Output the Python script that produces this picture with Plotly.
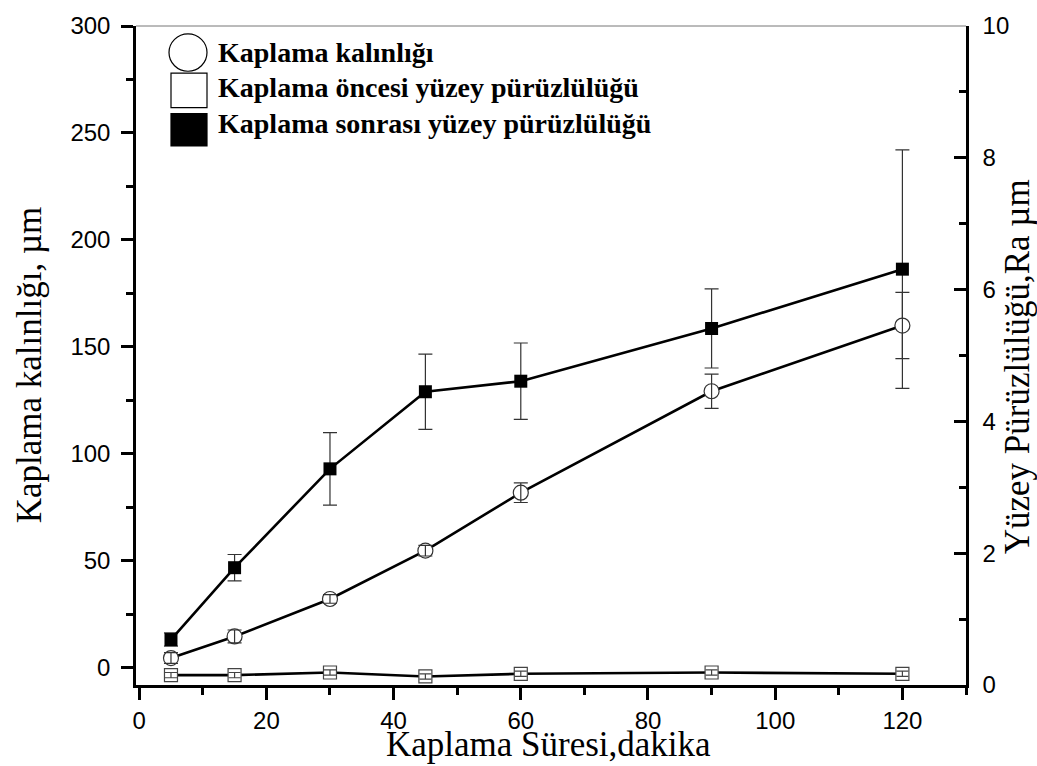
import plotly.graph_objects as go

# ---- data ----
time_min = [5, 15, 30, 45, 60, 90, 120]
thickness = [4.6, 14.7, 32.2, 54.8, 81.9, 129.3, 160.0]
thickness_err = [2.5, 3.0, 2.0, 2.5, 4.6, 8.0, 15.5]
rough_before = [0.15, 0.15, 0.19, 0.13, 0.17, 0.19, 0.17]
rough_before_err = [0.04, 0.04, 0.04, 0.04, 0.04, 0.04, 0.04]
rough_after = [0.69, 1.78, 3.28, 4.45, 4.61, 5.41, 6.31]
rough_after_err = [0.10, 0.20, 0.55, 0.57, 0.58, 0.60, 1.81]

x_ticks = [0, 20, 40, 60, 80, 100, 120]
left_ticks = [0, 50, 100, 150, 200, 250, 300]
right_ticks = [0, 2, 4, 6, 8, 10]

legend_names = ["Kaplama kalınlığı",
                "Kaplama öncesi yüzey pürüzlülüğü",
                "Kaplama sonrası yüzey pürüzlülüğü"]

W, H = 1037, 766
PL, PR, PT, PB = 136, 966, 15, 685


def px_x(p):
    return (p - PL) / (PR - PL)


def px_y(p):
    return (PB - p) / (PB - PT)


SERIF = "Liberation Serif, Times New Roman, serif"
SANS = "Liberation Sans, Arial, sans-serif"

fig = go.Figure()

# roughness (right axis -> primary 'y' so it sits in the lower layer)
fig.add_trace(go.Scatter(
    x=time_min, y=rough_after, yaxis="y", mode="lines+markers",
    line=dict(color="black", width=2.6),
    marker=dict(symbol="square", size=13, color="black"),
    error_y=dict(type="data", array=rough_after_err, color="#333",
                 thickness=1.2, width=7),
    showlegend=False))
fig.add_trace(go.Scatter(
    x=time_min, y=rough_before, yaxis="y", mode="lines+markers",
    line=dict(color="black", width=2.6),
    marker=dict(symbol="square", size=13, color="white",
                line=dict(color="#444", width=1.2)),
    showlegend=False))
fig.add_trace(go.Scatter(
    x=time_min, y=rough_before, yaxis="y", mode="markers",
    marker=dict(size=1, color="rgba(0,0,0,0)"),
    error_y=dict(type="data", array=rough_before_err, color="#444",
                 thickness=1.2, width=6),
    showlegend=False, hoverinfo="skip"))

# thickness (left axis -> overlay 'y2', upper layer)
fig.add_trace(go.Scatter(
    x=time_min, y=thickness, yaxis="y2", mode="lines+markers",
    line=dict(color="black", width=2.6),
    marker=dict(symbol="circle", size=15, color="white",
                line=dict(color="#333", width=1.2)),
    showlegend=False))
fig.add_trace(go.Scatter(
    x=time_min, y=thickness, yaxis="y2", mode="markers",
    marker=dict(size=1, color="rgba(0,0,0,0)"),
    error_y=dict(type="data", array=thickness_err, color="#333",
                 thickness=1.2, width=7),
    showlegend=False, hoverinfo="skip"))

axis_common = dict(showline=True, linecolor="black", linewidth=2.5,
                   showgrid=False, zeroline=False, tickcolor="black",
                   tickwidth=2.5, ticklen=12,
                   tickfont=dict(family=SANS, size=24, color="black"))

fig.update_layout(
    width=W, height=H,
    margin=dict(l=PL, r=W - PR, t=PT, b=H - PB),
    paper_bgcolor="white", plot_bgcolor="white",
    showlegend=False,
    xaxis=dict(range=[-0.5, 130], tickvals=x_ticks, ticks="outside",
               minor=dict(dtick=10, ticklen=7, tickwidth=2.5,
                          tickcolor="black", ticks="outside"),
               ticklabelstandoff=0, **axis_common),
    yaxis=dict(range=[0, 10], tickvals=right_ticks, side="right",
               ticks="inside",
               minor=dict(dtick=1, ticklen=7, tickwidth=2.5,
                          tickcolor="black", ticks="inside"),
               ticklabelstandoff=9, **axis_common),
    yaxis2=dict(range=[-8, 300], tickvals=left_ticks, side="left",
                overlaying="y", ticks="outside",
                minor=dict(dtick=25, ticklen=7, tickwidth=2.5,
                           tickcolor="black", ticks="outside"),
                ticklabelstandoff=6, **axis_common),
)

# top frame line
fig.add_shape(type="line", xref="paper", yref="paper", x0=0, x1=1, y0=1, y1=1,
              line=dict(color="#777", width=1))

# axis titles
fig.add_annotation(text="Kaplama Süresi,dakika", xref="paper", yref="paper",
                   x=px_x(548), y=px_y(746), xanchor="center", yanchor="middle",
                   showarrow=False, font=dict(family=SERIF, size=35, color="black"))
fig.add_annotation(text="Kaplama kalınlığı, µm", xref="paper", yref="paper",
                   x=px_x(29), y=px_y(360), xanchor="center", yanchor="middle",
                   textangle=-90, showarrow=False,
                   font=dict(family=SERIF, size=35, color="black"))
fig.add_annotation(text="Yüzey Pürüzlülüğü,Ra µm", xref="paper", yref="paper",
                   x=px_x(1017), y=px_y(362), xanchor="center", yanchor="middle",
                   textangle=-90, showarrow=False,
                   font=dict(family=SERIF, size=35, color="black"))

# legend (manual, large symbols)
fig.add_shape(type="circle", xref="paper", yref="paper",
              x0=px_x(169), x1=px_x(207), y0=px_y(61), y1=px_y(23),
              line=dict(color="black", width=1.2), fillcolor="white")
fig.add_shape(type="rect", xref="paper", yref="paper",
              x0=px_x(171), x1=px_x(207), y0=px_y(98), y1=px_y(63),
              line=dict(color="black", width=1.2), fillcolor="white")
fig.add_shape(type="rect", xref="paper", yref="paper",
              x0=px_x(171), x1=px_x(207), y0=px_y(137), y1=px_y(104),
              line=dict(color="black", width=1.2), fillcolor="black")
for name, yc in zip(legend_names, [42, 78, 114]):
    fig.add_annotation(text="<b>%s</b>" % name, xref="paper", yref="paper",
                       x=px_x(216), y=px_y(yc), xanchor="left", yanchor="middle",
                       showarrow=False,
                       font=dict(family=SERIF, size=28, color="black"))

fig.write_html("out.html")
